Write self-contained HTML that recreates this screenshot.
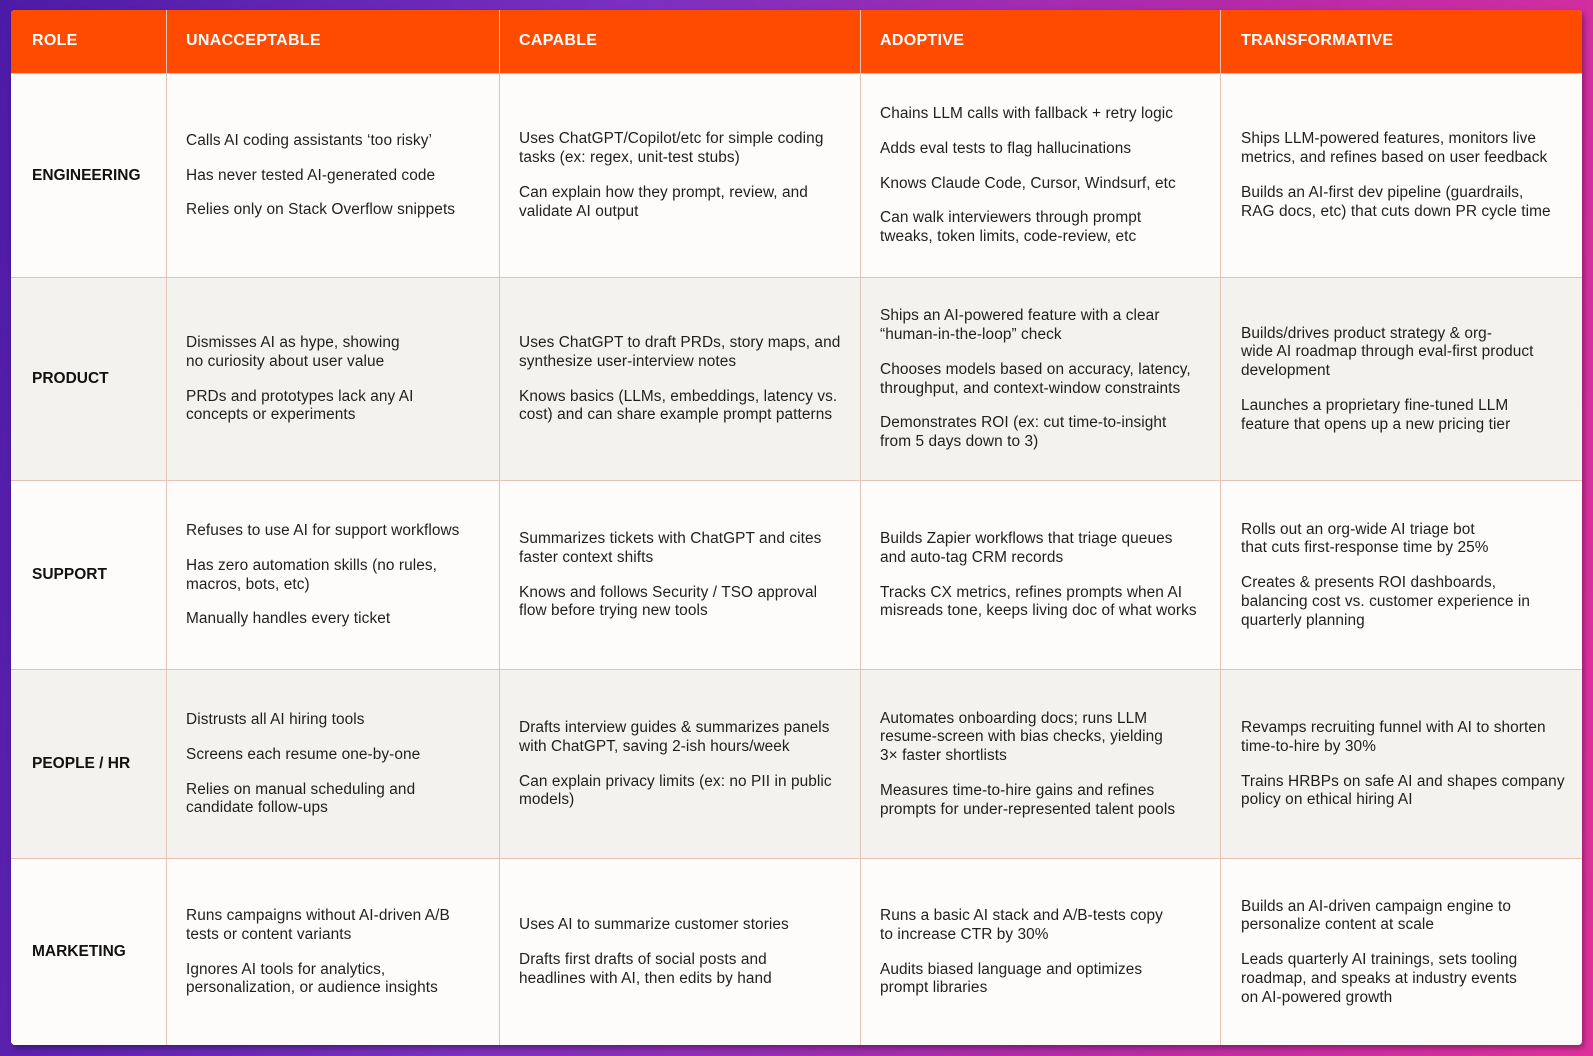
<!DOCTYPE html>
<html><head><meta charset="utf-8">
<style>
html,body{margin:0;padding:0;}
body{width:1593px;height:1056px;overflow:hidden;position:relative;
background:linear-gradient(100deg,#4c1ba6 0%,#7a2fc0 35%,#b52aa8 70%,#e0309c 100%);
font-family:"Liberation Sans",sans-serif;}
.tbl{position:absolute;left:11px;top:10px;width:1571px;height:1035px;background:#fdfcfa;border-radius:4px;overflow:hidden;box-shadow:2px 3px 6px rgba(0,0,0,.35);}
.hdr{position:absolute;left:0;top:0;width:1571px;height:63px;background:#ff4b00;}
.h{position:absolute;top:0;height:63px;line-height:61px;color:#fff;font-weight:bold;font-size:16px;letter-spacing:0.3px;}
.row{position:absolute;left:0;width:1571px;border-top:1px solid #e6c2b6;}
.vl{position:absolute;top:0;width:1px;height:1035px;background:#e2c3b8;}
.c{position:absolute;top:0;bottom:0;display:flex;flex-direction:column;justify-content:center;color:#1f1f1f;font-size:15.4px;letter-spacing:0.08px;line-height:18.8px;white-space:nowrap;}
.c p{margin:0 0 16px 0;}
.c p:last-child{margin-bottom:0;}
.r{font-weight:bold;font-size:15.5px;color:#111;letter-spacing:0;}
</style></head><body>
<div class="tbl">
<div class="hdr">
<div class="h" style="left:21px">ROLE</div>
<div class="h" style="left:175px">UNACCEPTABLE</div>
<div class="h" style="left:508px">CAPABLE</div>
<div class="h" style="left:869px">ADOPTIVE</div>
<div class="h" style="left:1230px">TRANSFORMATIVE</div>
</div>

<div class="row" style="top:63px;height:204px;background:#fdfcfa">
<div class="c r" style="left:21px">ENGINEERING</div>
<div class="c" style="left:175px"><p>Calls AI coding assistants ‘too risky’</p><p>Has never tested AI-generated code</p><p>Relies only on Stack Overflow snippets</p></div>
<div class="c" style="left:508px"><p>Uses ChatGPT/Copilot/etc for simple coding<br>tasks (ex: regex, unit-test stubs)</p><p>Can explain how they prompt, review, and<br>validate AI output</p></div>
<div class="c" style="left:869px"><p>Chains LLM calls with fallback + retry logic</p><p>Adds eval tests to flag hallucinations</p><p>Knows Claude Code, Cursor, Windsurf, etc</p><p>Can walk interviewers through prompt<br>tweaks, token limits, code-review, etc</p></div>
<div class="c" style="left:1230px"><p>Ships LLM-powered features, monitors live<br>metrics, and refines based on user feedback</p><p>Builds an AI-first dev pipeline (guardrails,<br>RAG docs, etc) that cuts down PR cycle time</p></div>
</div>

<div class="row" style="top:267px;height:203px;background:#f4f2ef">
<div class="c r" style="left:21px">PRODUCT</div>
<div class="c" style="left:175px"><p>Dismisses AI as hype, showing<br>no curiosity about user value</p><p>PRDs and prototypes lack any AI<br>concepts or experiments</p></div>
<div class="c" style="left:508px"><p>Uses ChatGPT to draft PRDs, story maps, and<br>synthesize user-interview notes</p><p>Knows basics (LLMs, embeddings, latency vs.<br>cost) and can share example prompt patterns</p></div>
<div class="c" style="left:869px"><p>Ships an AI-powered feature with a clear<br>“human-in-the-loop” check</p><p>Chooses models based on accuracy, latency,<br>throughput, and context-window constraints</p><p>Demonstrates ROI (ex: cut time-to-insight<br>from 5 days down to 3)</p></div>
<div class="c" style="left:1230px"><p>Builds/drives product strategy &amp; org-<br>wide AI roadmap through eval-first product<br>development</p><p>Launches a proprietary fine-tuned LLM<br>feature that opens up a new pricing tier</p></div>
</div>

<div class="row" style="top:470px;height:189px;background:#fdfcfa">
<div class="c r" style="left:21px">SUPPORT</div>
<div class="c" style="left:175px"><p>Refuses to use AI for support workflows</p><p>Has zero automation skills (no rules,<br>macros, bots, etc)</p><p>Manually handles every ticket</p></div>
<div class="c" style="left:508px"><p>Summarizes tickets with ChatGPT and cites<br>faster context shifts</p><p>Knows and follows Security / TSO approval<br>flow before trying new tools</p></div>
<div class="c" style="left:869px"><p>Builds Zapier workflows that triage queues<br>and auto-tag CRM records</p><p>Tracks CX metrics, refines prompts when AI<br>misreads tone, keeps living doc of what works</p></div>
<div class="c" style="left:1230px"><p>Rolls out an org-wide AI triage bot<br>that cuts first-response time by 25%</p><p>Creates &amp; presents ROI dashboards,<br>balancing cost vs. customer experience in<br>quarterly planning</p></div>
</div>

<div class="row" style="top:659px;height:189px;background:#f4f2ef">
<div class="c r" style="left:21px">PEOPLE / HR</div>
<div class="c" style="left:175px"><p>Distrusts all AI hiring tools</p><p>Screens each resume one-by-one</p><p>Relies on manual scheduling and<br>candidate follow-ups</p></div>
<div class="c" style="left:508px"><p>Drafts interview guides &amp; summarizes panels<br>with ChatGPT, saving 2-ish hours/week</p><p>Can explain privacy limits (ex: no PII in public<br>models)</p></div>
<div class="c" style="left:869px"><p>Automates onboarding docs; runs LLM<br>resume-screen with bias checks, yielding<br>3× faster shortlists</p><p>Measures time-to-hire gains and refines<br>prompts for under-represented talent pools</p></div>
<div class="c" style="left:1230px"><p>Revamps recruiting funnel with AI to shorten<br>time-to-hire by 30%</p><p>Trains HRBPs on safe AI and shapes company<br>policy on ethical hiring AI</p></div>
</div>

<div class="row" style="top:848px;height:187px;background:#fdfcfa">
<div class="c r" style="left:21px">MARKETING</div>
<div class="c" style="left:175px"><p>Runs campaigns without AI-driven A/B<br>tests or content variants</p><p>Ignores AI tools for analytics,<br>personalization, or audience insights</p></div>
<div class="c" style="left:508px"><p>Uses AI to summarize customer stories</p><p>Drafts first drafts of social posts and<br>headlines with AI, then edits by hand</p></div>
<div class="c" style="left:869px"><p>Runs a basic AI stack and A/B-tests copy<br>to increase CTR by 30%</p><p>Audits biased language and optimizes<br>prompt libraries</p></div>
<div class="c" style="left:1230px"><p>Builds an AI-driven campaign engine to<br>personalize content at scale</p><p>Leads quarterly AI trainings, sets tooling<br>roadmap, and speaks at industry events<br>on AI-powered growth</p></div>
</div>

<div class="vl" style="left:155px"></div>
<div class="vl" style="left:488px"></div>
<div class="vl" style="left:849px"></div>
<div class="vl" style="left:1209px"></div>
</div>
</body></html>
